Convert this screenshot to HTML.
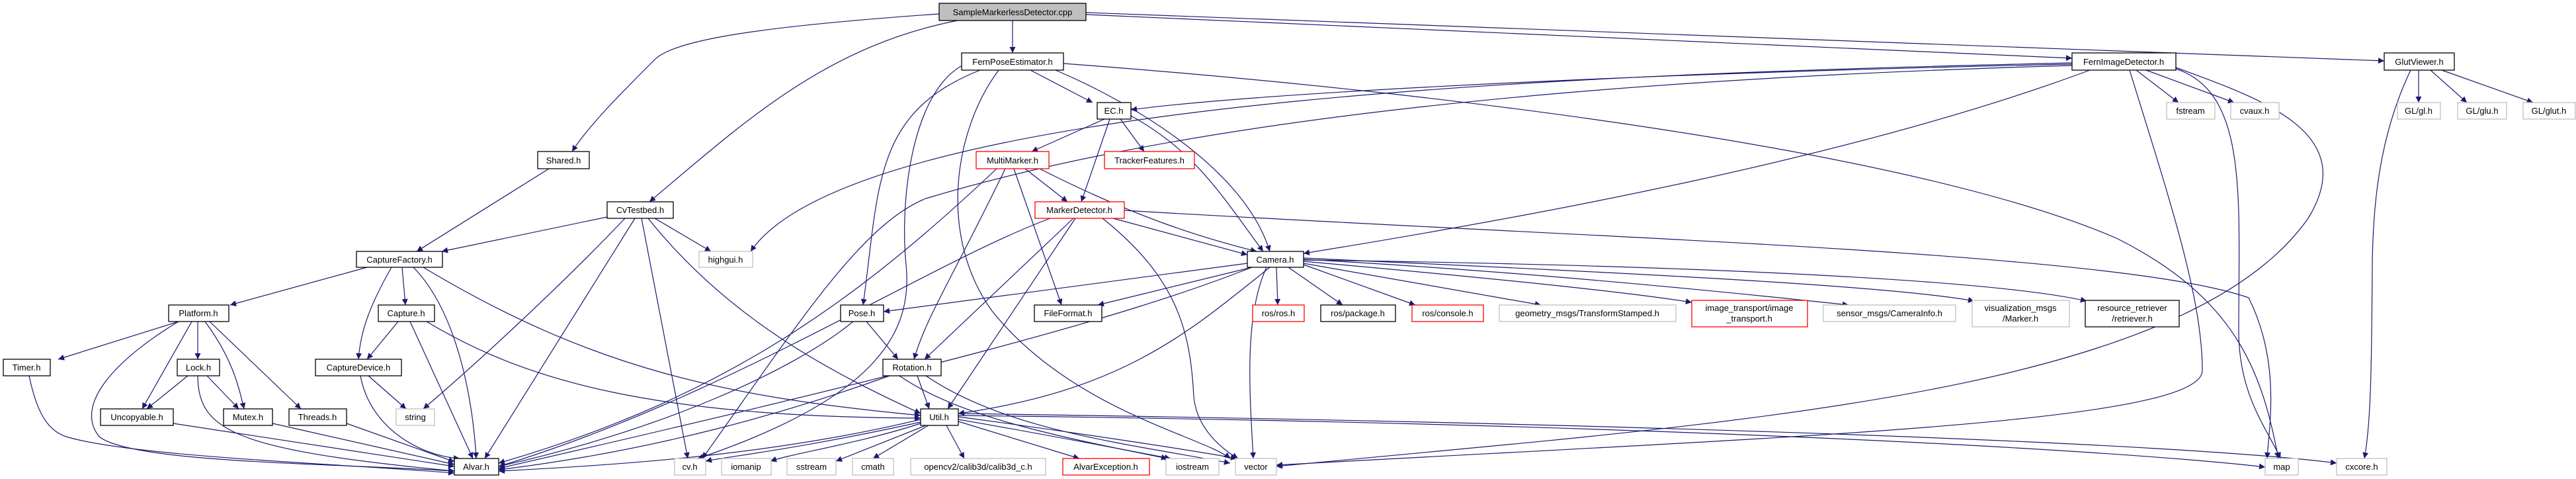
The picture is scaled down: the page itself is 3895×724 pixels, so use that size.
<!DOCTYPE html>
<html><head><meta charset="utf-8"><style>
html,body{margin:0;padding:0;background:#fff;}
svg{display:block;}
text{font-family:"Liberation Sans",sans-serif;font-size:13px;fill:#000;}
.e{fill:none;stroke:#191970;stroke-width:1.2;}
</style></head><body>
<svg width="3895" height="724" viewBox="0 0 3895 724" xmlns="http://www.w3.org/2000/svg">
<defs><marker id="a" viewBox="0 0 10 10" refX="10" refY="5" markerWidth="11" markerHeight="9" markerUnits="userSpaceOnUse" orient="auto"><path d="M0,0 L10,5 L0,10 z" fill="#191970"/></marker></defs>
<g class="e" marker-end="url(#a)">
<path d="M1420,21 C1150,40 1020,60 990,90 C940,140 890,190 865,229"/>
<path d="M1448,31 C1250,70 1130,180 982,305"/>
<path d="M1531,31 L1531,80"/>
<path d="M1642,22 L3133,88"/>
<path d="M1642,19 L3605,92"/>
<path d="M1558,106 L1652,155"/>
<path d="M1596,106 C1700,150 1880,250 1920,380"/>
<path d="M1482,106 C1320,170 1330,280 1305,461"/>
<path d="M1455,99 C1380,140 1360,300 1370,400 C1380,500 1330,600 1055,693"/>
<path d="M1510,106 C1440,200 1420,360 1500,470 C1620,620 1820,660 1860,693"/>
<path d="M1608,96 C2200,140 2900,230 3200,360 C3380,450 3420,560 3445,693"/>
<path d="M3133,97 C2500,110 1900,140 1710,166"/>
<path d="M3160,106 C2800,240 2300,330 1971,383"/>
<path d="M3133,95 C2500,110 1300,140 1135,380"/>
<path d="M3133,99 C2400,120 1800,180 1400,300 C1300,340 1200,500 1062,693"/>
<path d="M3230,106 L3294,155"/>
<path d="M3245,106 L3378,155"/>
<path d="M3290,104 C3400,140 3385,300 3385,500 C3385,600 3430,650 3448,693"/>
<path d="M3290,102 C3420,150 3570,200 3490,330 C3300,600 2600,640 1930,705"/>
<path d="M3220,106 C3280,300 3330,450 3330,560 C3330,640 2700,660 1930,703"/>
<path d="M1670,180 L1560,229"/>
<path d="M1694,180 L1730,229"/>
<path d="M1678,180 L1635,305"/>
<path d="M1710,175 C1810,230 1850,300 1910,380"/>
<path d="M1550,255 L1614,305"/>
<path d="M1572,255 C1720,330 1820,360 1900,380"/>
<path d="M1533,255 L1605,461"/>
<path d="M1520,255 C1440,420 1400,480 1382,543"/>
<path d="M1507,255 C1300,450 1100,600 754,700"/>
<path d="M1683,330 L1886,385"/>
<path d="M1623,330 L1398,543"/>
<path d="M1626,330 L1433,618"/>
<path d="M1588,330 C1400,400 1100,600 754,705"/>
<path d="M1667,330 C1780,420 1800,500 1805,600 C1810,650 1850,680 1872,693"/>
<path d="M1700,318 C2400,360 3200,380 3400,450 C3450,550 3430,650 3428,693"/>
<path d="M1886,398 L1336,471"/>
<path d="M1893,404 L1660,461"/>
<path d="M1930,404 L1932,461"/>
<path d="M1948,404 L2030,461"/>
<path d="M1971,400 L2140,461"/>
<path d="M1971,398 L2330,461"/>
<path d="M1971,395 C2250,420 2450,440 2558,457"/>
<path d="M1971,392 C2300,410 2600,440 2795,461"/>
<path d="M1971,390 C2400,410 2850,430 2985,455"/>
<path d="M1971,393 C2500,400 3000,420 3155,455"/>
<path d="M1920,404 C1800,500 1700,590 1449,625"/>
<path d="M1893,404 C1700,480 1400,560 754,708"/>
<path d="M1915,404 C1880,480 1890,600 1895,693"/>
<path d="M1310,486 L1358,543"/>
<path d="M1290,486 C1200,560 1000,650 754,705"/>
<path d="M1387,568 L1405,618"/>
<path d="M1345,568 C1200,620 1000,680 754,710"/>
<path d="M1400,568 C1520,650 1700,670 1860,700"/>
<path d="M1360,568 C1450,630 1600,660 1765,693"/>
<path d="M1392,634 C1200,680 1000,700 754,712"/>
<path d="M1392,638 C1200,680 1100,690 1067,697"/>
<path d="M1392,640 C1300,670 1200,685 1165,697"/>
<path d="M1400,643 L1264,697"/>
<path d="M1404,643 L1320,693"/>
<path d="M1431,643 L1458,693"/>
<path d="M1449,637 L1632,693"/>
<path d="M1449,634 C1600,660 1700,680 1770,693"/>
<path d="M1449,630 C1600,650 1800,680 1870,693"/>
<path d="M1449,628 C2500,640 3200,680 3425,706"/>
<path d="M1449,625 C2500,640 3300,670 3533,700"/>
<path d="M918,328 L668,380"/>
<path d="M990,330 L1075,380"/>
<path d="M945,330 C850,430 720,550 640,618"/>
<path d="M960,330 L733,693"/>
<path d="M970,330 L1040,693"/>
<path d="M980,330 C1100,480 1250,560 1392,625"/>
<path d="M830,255 L630,380"/>
<path d="M555,404 L348,461"/>
<path d="M608,404 L613,461"/>
<path d="M592,404 C560,460 545,500 542,543"/>
<path d="M625,404 C690,470 715,600 720,693"/>
<path d="M640,404 C900,560 1100,600 1392,628"/>
<path d="M270,486 L88,543"/>
<path d="M270,486 C180,540 110,610 150,660 C200,700 500,700 687,712"/>
<path d="M290,486 L215,618"/>
<path d="M299,486 L299,543"/>
<path d="M310,486 C350,540 360,580 369,618"/>
<path d="M317,486 L455,618"/>
<path d="M602,486 L555,543"/>
<path d="M620,486 L715,693"/>
<path d="M645,486 C800,580 1000,630 1392,632"/>
<path d="M557,568 L614,618"/>
<path d="M545,568 C560,650 640,690 695,693"/>
<path d="M44,568 C55,620 70,650 100,660 C200,690 500,700 687,715"/>
<path d="M284,568 L222,618"/>
<path d="M313,568 L361,618"/>
<path d="M299,568 C300,650 350,680 687,712"/>
<path d="M262,640 L687,705"/>
<path d="M412,640 L687,702"/>
<path d="M524,640 L687,698"/>
<path d="M3657,106 L3657,155"/>
<path d="M3675,106 L3730,155"/>
<path d="M3692,106 L3830,155"/>
<path d="M3645,106 C3600,200 3588,300 3587,400 C3586,550 3585,640 3575,693"/>
</g>
<g stroke-width="1.3">
<rect x="1420" y="5" width="222" height="26" fill="#bfbfbf" stroke="#000"/><text x="1531" y="23" text-anchor="middle">SampleMarkerlessDetector.cpp</text>
<rect x="1454" y="80" width="154" height="26" fill="#fff" stroke="#000"/><text x="1531" y="98" text-anchor="middle">FernPoseEstimator.h</text>
<rect x="3133" y="80" width="157" height="26" fill="#fff" stroke="#000"/><text x="3211" y="98" text-anchor="middle">FernImageDetector.h</text>
<rect x="3605" y="80" width="106" height="26" fill="#fff" stroke="#000"/><text x="3658" y="98" text-anchor="middle">GlutViewer.h</text>
<rect x="1659" y="155" width="51" height="25" fill="#fff" stroke="#000"/><text x="1684" y="172" text-anchor="middle">EC.h</text>
<rect x="3276" y="155" width="73" height="25" fill="#fff" stroke="#bfbfbf"/><text x="3312" y="172" text-anchor="middle">fstream</text>
<rect x="3373" y="155" width="73" height="25" fill="#fff" stroke="#bfbfbf"/><text x="3409" y="172" text-anchor="middle">cvaux.h</text>
<rect x="3625" y="155" width="65" height="25" fill="#fff" stroke="#bfbfbf"/><text x="3657" y="172" text-anchor="middle">GL/gl.h</text>
<rect x="3716" y="155" width="74" height="25" fill="#fff" stroke="#bfbfbf"/><text x="3753" y="172" text-anchor="middle">GL/glu.h</text>
<rect x="3815" y="155" width="79" height="25" fill="#fff" stroke="#bfbfbf"/><text x="3854" y="172" text-anchor="middle">GL/glut.h</text>
<rect x="813" y="229" width="78" height="26" fill="#fff" stroke="#000"/><text x="852" y="247" text-anchor="middle">Shared.h</text>
<rect x="1476" y="229" width="110" height="26" fill="#fff" stroke="#ff0000"/><text x="1531" y="247" text-anchor="middle">MultiMarker.h</text>
<rect x="1670" y="229" width="136" height="26" fill="#fff" stroke="#ff0000"/><text x="1738" y="247" text-anchor="middle">TrackerFeatures.h</text>
<rect x="918" y="305" width="100" height="25" fill="#fff" stroke="#000"/><text x="968" y="322" text-anchor="middle">CvTestbed.h</text>
<rect x="1565" y="305" width="135" height="25" fill="#fff" stroke="#ff0000"/><text x="1632" y="322" text-anchor="middle">MarkerDetector.h</text>
<rect x="539" y="380" width="130" height="24" fill="#fff" stroke="#000"/><text x="604" y="397" text-anchor="middle">CaptureFactory.h</text>
<rect x="1057" y="380" width="81" height="24" fill="#fff" stroke="#bfbfbf"/><text x="1097" y="397" text-anchor="middle">highgui.h</text>
<rect x="1886" y="380" width="85" height="24" fill="#fff" stroke="#000"/><text x="1928" y="397" text-anchor="middle">Camera.h</text>
<rect x="255" y="461" width="91" height="25" fill="#fff" stroke="#000"/><text x="300" y="478" text-anchor="middle">Platform.h</text>
<rect x="572" y="461" width="85" height="25" fill="#fff" stroke="#000"/><text x="614" y="478" text-anchor="middle">Capture.h</text>
<rect x="1271" y="461" width="65" height="25" fill="#fff" stroke="#000"/><text x="1303" y="478" text-anchor="middle">Pose.h</text>
<rect x="1564" y="461" width="102" height="25" fill="#fff" stroke="#000"/><text x="1615" y="478" text-anchor="middle">FileFormat.h</text>
<rect x="1894" y="461" width="78" height="25" fill="#fff" stroke="#ff0000"/><text x="1933" y="478" text-anchor="middle">ros/ros.h</text>
<rect x="1997" y="461" width="113" height="25" fill="#fff" stroke="#000"/><text x="2053" y="478" text-anchor="middle">ros/package.h</text>
<rect x="2135" y="461" width="108" height="25" fill="#fff" stroke="#ff0000"/><text x="2189" y="478" text-anchor="middle">ros/console.h</text>
<rect x="2267" y="461" width="267" height="25" fill="#fff" stroke="#bfbfbf"/><text x="2400" y="478" text-anchor="middle">geometry_msgs/TransformStamped.h</text>
<rect x="2558" y="454" width="175" height="40" fill="#fff" stroke="#ff0000"/><text x="2645" y="470" text-anchor="middle">image_transport/image</text><text x="2645" y="486" text-anchor="middle">_transport.h</text>
<rect x="2757" y="461" width="200" height="25" fill="#fff" stroke="#bfbfbf"/><text x="2857" y="478" text-anchor="middle">sensor_msgs/CameraInfo.h</text>
<rect x="2982" y="454" width="147" height="40" fill="#fff" stroke="#bfbfbf"/><text x="3055" y="470" text-anchor="middle">visualization_msgs</text><text x="3055" y="486" text-anchor="middle">/Marker.h</text>
<rect x="3153" y="454" width="142" height="40" fill="#fff" stroke="#000"/><text x="3224" y="470" text-anchor="middle">resource_retriever</text><text x="3224" y="486" text-anchor="middle">/retriever.h</text>
<rect x="5" y="543" width="71" height="25" fill="#fff" stroke="#000"/><text x="40" y="560" text-anchor="middle">Timer.h</text>
<rect x="268" y="543" width="64" height="25" fill="#fff" stroke="#000"/><text x="300" y="560" text-anchor="middle">Lock.h</text>
<rect x="477" y="543" width="130" height="25" fill="#fff" stroke="#000"/><text x="542" y="560" text-anchor="middle">CaptureDevice.h</text>
<rect x="1335" y="543" width="88" height="25" fill="#fff" stroke="#000"/><text x="1379" y="560" text-anchor="middle">Rotation.h</text>
<rect x="152" y="618" width="110" height="25" fill="#fff" stroke="#000"/><text x="207" y="635" text-anchor="middle">Uncopyable.h</text>
<rect x="338" y="618" width="74" height="25" fill="#fff" stroke="#000"/><text x="375" y="635" text-anchor="middle">Mutex.h</text>
<rect x="437" y="618" width="87" height="25" fill="#fff" stroke="#000"/><text x="480" y="635" text-anchor="middle">Threads.h</text>
<rect x="599" y="618" width="58" height="25" fill="#fff" stroke="#bfbfbf"/><text x="628" y="635" text-anchor="middle">string</text>
<rect x="1392" y="618" width="57" height="25" fill="#fff" stroke="#000"/><text x="1420" y="635" text-anchor="middle">Util.h</text>
<rect x="687" y="693" width="67" height="25" fill="#fff" stroke="#000"/><text x="720" y="710" text-anchor="middle">Alvar.h</text>
<rect x="1020" y="693" width="47" height="25" fill="#fff" stroke="#bfbfbf"/><text x="1043" y="710" text-anchor="middle">cv.h</text>
<rect x="1091" y="693" width="75" height="25" fill="#fff" stroke="#bfbfbf"/><text x="1128" y="710" text-anchor="middle">iomanip</text>
<rect x="1190" y="693" width="74" height="25" fill="#fff" stroke="#bfbfbf"/><text x="1227" y="710" text-anchor="middle">sstream</text>
<rect x="1289" y="693" width="62" height="25" fill="#fff" stroke="#bfbfbf"/><text x="1320" y="710" text-anchor="middle">cmath</text>
<rect x="1377" y="693" width="204" height="25" fill="#fff" stroke="#bfbfbf"/><text x="1479" y="710" text-anchor="middle">opencv2/calib3d/calib3d_c.h</text>
<rect x="1607" y="693" width="131" height="25" fill="#fff" stroke="#ff0000"/><text x="1672" y="710" text-anchor="middle">AlvarException.h</text>
<rect x="1763" y="693" width="80" height="25" fill="#fff" stroke="#bfbfbf"/><text x="1803" y="710" text-anchor="middle">iostream</text>
<rect x="1868" y="693" width="62" height="25" fill="#fff" stroke="#bfbfbf"/><text x="1899" y="710" text-anchor="middle">vector</text>
<rect x="3425" y="693" width="50" height="25" fill="#fff" stroke="#bfbfbf"/><text x="3450" y="710" text-anchor="middle">map</text>
<rect x="3533" y="693" width="76" height="25" fill="#fff" stroke="#bfbfbf"/><text x="3571" y="710" text-anchor="middle">cxcore.h</text>
</g>
</svg>
</body></html>
